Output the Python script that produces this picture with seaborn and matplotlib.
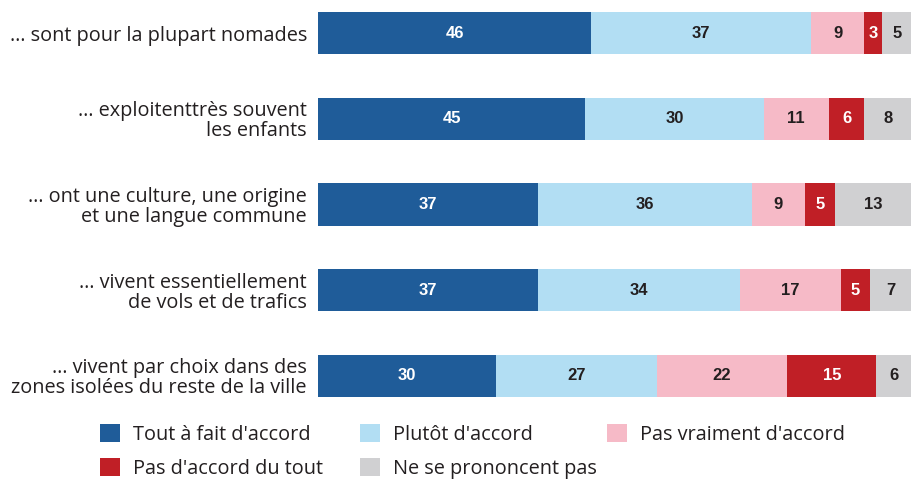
import numpy as np
import pandas as pd
import matplotlib
matplotlib.use('Agg')
import matplotlib.pyplot as plt
import seaborn as sns
from matplotlib.patches import Patch

# statements (y categories)
statements = [
    "… sont pour la plupart nomades",
    "… exploitenttrès souvent\nles enfants",
    "… ont une culture, une origine\net une langue commune",
    "… vivent essentiellement\nde vols et de trafics",
    "… vivent par choix dans des\nzones isolées du reste de la ville",
]
answers = [
    "Tout à fait d'accord",
    "Plutôt d'accord",
    "Pas vraiment d'accord",
    "Pas d'accord du tout",
    "Ne se prononcent pas",
]
tout_a_fait = [46, 45, 37, 37, 30]
plutot = [37, 30, 36, 34, 27]
pas_vraiment = [9, 11, 9, 17, 22]
pas_du_tout = [3, 6, 5, 5, 15]
nspp = [5, 8, 13, 7, 6]

colors = ["#1F5C99", "#B2DEF3", "#F6BAC7", "#C01F26", "#D0D0D2"]
text_colors = ["white", "#231F20", "#231F20", "white", "#231F20"]

sns.set_theme(style="white")
plt.rcParams['font.family'] = ['Open Sans', 'DejaVu Sans']

df = pd.DataFrame({'statement': statements})
series = [tout_a_fait, plutot, pas_vraiment, pas_du_tout, nspp]
cum = np.cumsum(np.array(series), axis=0)
for i, name in enumerate(answers):
    df[name] = cum[i]

fig = plt.figure(figsize=(9.12, 4.79), dpi=100)
ax = fig.add_axes([318 / 912, 1 - 397 / 479, 1 - 318 / 912, (397 - 12) / 479])

# stacked bars: draw cumulative totals from the last category back to the first
for i in reversed(range(len(answers))):
    sns.barplot(data=df, y='statement', x=answers[i], color=colors[i],
                orient='h', width=0.49, saturation=1, linewidth=0,
                edgecolor='none', ax=ax)

# value labels in each segment
for j in range(len(statements)):
    left = 0
    for i in range(len(answers)):
        v = series[i][j]
        ax.text(left + v / 2, j, str(v), ha='center', va='center',
                fontsize=12, fontweight='bold', color=text_colors[i],
                family='Liberation Sans')
        left += v

ax.set_xlim(0, 100)
ax.set_ylim(len(statements) - 1 + 0.245, -0.245)
ax.set_xlabel('')
ax.set_ylabel('')
ax.set_xticks([])
ax.tick_params(axis='y', length=0, pad=8, labelsize=14.3, labelcolor='#231F20')
for lab in ax.get_yticklabels():
    lab.set_linespacing(1.0)
sns.despine(ax=ax, left=True, bottom=True)

# legend: one column at a time, placed like the original
handles = [Patch(facecolor=c, edgecolor='none') for c in colors]
columns = [([0, 3], 100), ([1, 4], 360), ([2], 607)]
for idx, x0 in columns:
    fig.legend([handles[k] for k in idx], [answers[k] for k in idx],
               loc='upper left', bbox_to_anchor=(x0 / 912, 1 - 424 / 479),
               frameon=False, fontsize=14.3, handlelength=1.0,
               handleheight=1.0, labelspacing=0.68, handletextpad=0.65,
               borderpad=0, borderaxespad=0, labelcolor='#231F20')

fig.savefig('out.png', dpi=100)
